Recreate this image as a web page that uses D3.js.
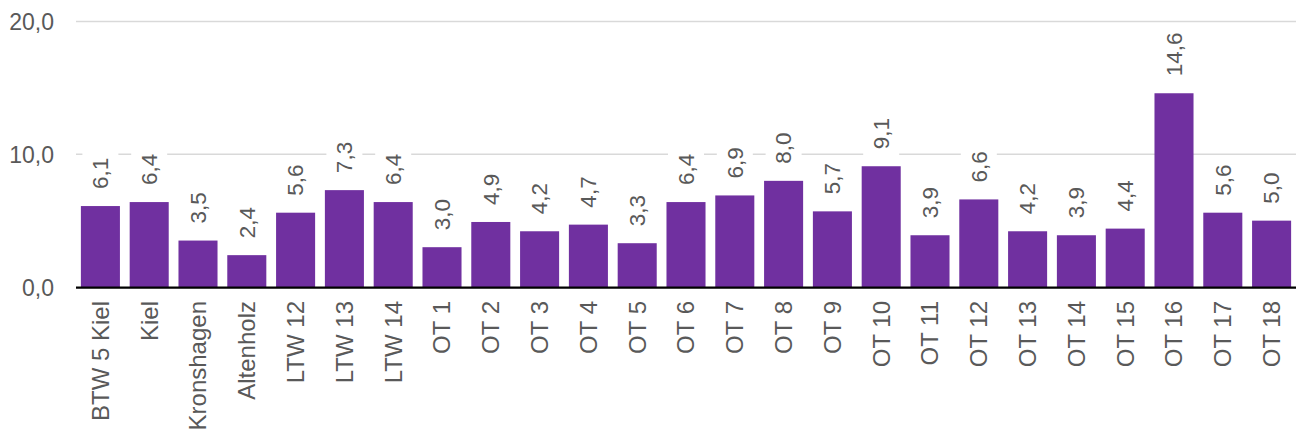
<!DOCTYPE html>
<html>
<head>
<meta charset="utf-8">
<script src="https://cdn.jsdelivr.net/npm/d3@7"></script>
<style>
  html, body { margin: 0; padding: 0; background: #fff; }
  svg { display: block; }
  text { font-family: "Liberation Sans", Arial, sans-serif; fill: #595959; }
</style>
</head>
<body>
<svg id="chart" width="1296" height="434"></svg>
<script>
const categories = ["BTW 5 Kiel", "Kiel", "Kronshagen", "Altenholz", "LTW 12", "LTW 13", "LTW 14",
  "OT 1", "OT 2", "OT 3", "OT 4", "OT 5", "OT 6", "OT 7", "OT 8", "OT 9", "OT 10",
  "OT 11", "OT 12", "OT 13", "OT 14", "OT 15", "OT 16", "OT 17", "OT 18"];
const values = [6.1, 6.4, 3.5, 2.4, 5.6, 7.3, 6.4, 3.0, 4.9, 4.2, 4.7, 3.3, 6.4, 6.9, 8.0, 5.7, 9.1,
  3.9, 6.6, 4.2, 3.9, 4.4, 14.6, 5.6, 5.0];
const yTicks = [0, 10, 20];

(function () {
const data = categories.map((c, i) => ({ cat: c, val: values[i] }));
const fmt = v => d3.format(".1f")(v).replace(".", ",");

const svg = d3.select("#chart");
const mLeft = 76, mRight = 1296, mTop = 21.6, mBottom = 287;

const x = d3.scaleBand().domain(categories).range([mLeft, mRight]).paddingInner(0.2).paddingOuter(0.1);
const y = d3.scaleLinear().domain([0, 20]).range([mBottom, mTop]);

// gridlines
svg.append("g").selectAll("line").data(yTicks.filter(t => t > 0)).join("line")
  .attr("x1", mLeft).attr("x2", mRight)
  .attr("y1", d => y(d)).attr("y2", d => y(d))
  .attr("stroke", "#d9d9d9").attr("stroke-width", 1.5);

// y axis labels
const yAxis = d3.axisLeft(y).tickValues(yTicks).tickFormat(fmt).tickSize(0).tickPadding(0);
const yg = svg.append("g").attr("transform", `translate(54,0)`).call(yAxis);
yg.select(".domain").remove();
yg.selectAll("text").attr("font-size", 23).attr("fill", "#595959")
  .style("font-family", '"Liberation Sans", Arial, sans-serif').attr("dy", "0.35em");

// bars
svg.append("g").selectAll("rect").data(data).join("rect")
  .attr("x", d => x(d.cat)).attr("width", x.bandwidth())
  .attr("y", d => y(d.val)).attr("height", d => y(0) - y(d.val))
  .attr("fill", "#7030a0");

// value labels with white background boxes
const lg = svg.append("g");
data.forEach(d => {
  const cx = x(d.cat) + x.bandwidth() / 2;
  const yb = y(d.val) - 17;
  const g = lg.append("g");
  const bg = g.append("rect").attr("fill", "#fff");
  const t = g.append("text")
    .attr("transform", `translate(${cx},${yb}) rotate(-90)`)
    .attr("dy", "0.35em")
    .attr("font-size", 22.5)
    .text(fmt(d.val));
  const len = t.node().getComputedTextLength();
  bg.attr("x", cx - 18).attr("width", 36)
    .attr("y", yb - len - 7).attr("height", len + 14);
});

// axis line
svg.append("line").attr("x1", mLeft).attr("x2", mRight)
  .attr("y1", y(0) + 0.5).attr("y2", y(0) + 0.5)
  .attr("stroke", "#000").attr("stroke-width", 2.25);

// category labels
const xAxis = d3.axisBottom(x).tickSize(0).tickPadding(0);
const xg = svg.append("g").attr("transform", `translate(0,${mBottom})`).call(xAxis);
xg.select(".domain").remove();
xg.selectAll("text")
  .attr("font-size", 24).attr("fill", "#595959")
  .style("font-family", '"Liberation Sans", Arial, sans-serif')
  .attr("text-anchor", "end")
  .attr("transform", "translate(0,14) rotate(-90)")
  .attr("x", 0).attr("y", 0).attr("dy", "0.35em");
})();
</script>
</body>
</html>
